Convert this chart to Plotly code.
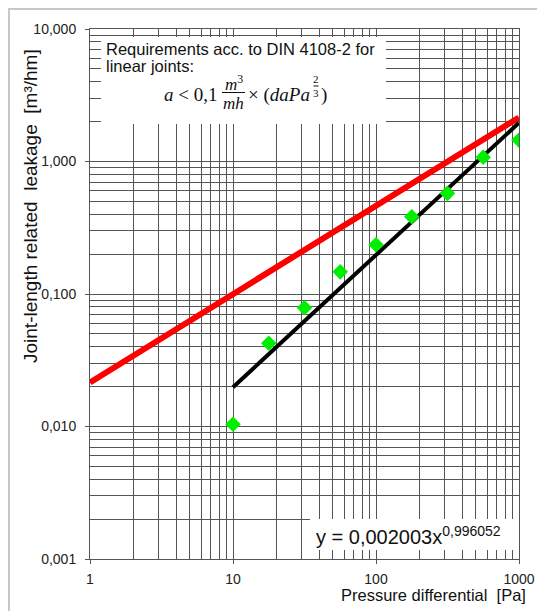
import plotly.graph_objects as go

# ---- data ----
pressure_pa = [10, 17.8, 31.6, 56.2, 100, 178, 316, 562, 1000]
leakage = [0.0104, 0.0425, 0.0788, 0.147, 0.2355, 0.383, 0.575, 1.076, 1.45]

din_limit_x = [1, 1000]
din_limit_y = [0.0215, 2.15]

fit_x = [10, 1000]
fit_y = [0.0198, 1.96]

x_tick_vals = [1, 10, 100, 1000]
x_tick_text = ["1", "10", "100", "1000"]
y_tick_vals = [0.001, 0.01, 0.1, 1, 10]
y_tick_text = ["0,001", "0,010", "0,100", "1,000", "10,000"]

minor_x = [m * 10 ** k for k in range(0, 3) for m in range(2, 10)]
minor_y = [m * 10 ** k for k in range(-3, 1) for m in range(2, 10)]

W, H = 537, 611
L, R, T, B = 90, 18, 29, 52
PW, PH = W - L - R, H - T - B


def px(x):
    return (x - L) / PW


def py(y):
    return (H - B - y) / PH


fig = go.Figure()

fig.add_trace(go.Scatter(x=din_limit_x, y=din_limit_y, mode="lines",
                         line=dict(color="#ff0000", width=6), showlegend=False))
fig.add_trace(go.Scatter(x=fit_x, y=fit_y, mode="lines",
                         line=dict(color="#000000", width=4), showlegend=False))
fig.add_trace(go.Scatter(x=pressure_pa, y=leakage, mode="markers",
                         marker=dict(symbol="diamond", size=12, color="#00ee00",
                                     line=dict(width=0)), showlegend=False))

grid_c = "#555555"
font_sans = "Liberation Sans, Arial, sans-serif"
font_serif = "Liberation Serif, DejaVu Serif, serif"

fig.update_xaxes(type="log", range=[0, 3], tickvals=x_tick_vals, ticktext=x_tick_text,
                 showgrid=True, gridcolor=grid_c, gridwidth=1,
                 showline=True, linecolor=grid_c, linewidth=1, mirror=True,
                 ticks="outside", ticklen=4, tickcolor=grid_c, ticklabelstandoff=3,
                 tickfont=dict(family=font_sans, size=14, color="#222"),
                 minor=dict(tickvals=minor_x, showgrid=True, gridcolor=grid_c, gridwidth=1, ticks=""),
                 zeroline=False, automargin=False)
fig.update_yaxes(type="log", range=[-3, 1], tickvals=y_tick_vals, ticktext=y_tick_text,
                 showgrid=True, gridcolor=grid_c, gridwidth=1,
                 showline=True, linecolor=grid_c, linewidth=1, mirror=True,
                 ticks="outside", ticklen=4, tickcolor=grid_c, ticklabelstandoff=6,
                 tickfont=dict(family=font_sans, size=14, color="#222"),
                 minor=dict(tickvals=minor_y, showgrid=True, gridcolor=grid_c, gridwidth=1, ticks=""),
                 zeroline=False, automargin=False)

shapes = [
    # outer frame
    dict(type="rect", xref="paper", yref="paper", x0=px(9), x1=px(560), y0=py(640), y1=py(9),
         line=dict(color="#c8c8c8", width=2), fillcolor="rgba(0,0,0,0)", layer="below"),
    # text box top-left
    dict(type="rect", xref="paper", yref="paper", x0=px(101), x1=px(386), y0=py(124), y1=py(37),
         line=dict(width=0), fillcolor="white", layer="above"),
    # equation box bottom-right
    dict(type="rect", xref="paper", yref="paper", x0=px(310), x1=px(519), y0=py(550), y1=py(519),
         line=dict(width=0), fillcolor="white", layer="above"),
    # fraction bar m3/mh
    dict(type="line", xref="paper", yref="paper", x0=px(222), x1=px(245), y0=py(92.5), y1=py(92.5),
         line=dict(color="#111", width=1), layer="above"),
    # small fraction bar 2/3
    dict(type="line", xref="paper", yref="paper", x0=px(313.5), x1=px(318.5), y0=py(86), y1=py(86),
         line=dict(color="#111", width=1), layer="above"),
]

ann = []


def add_text(text, x, y, size, family=font_sans, xanchor="left", yanchor="middle", angle=0):
    ann.append(dict(text=text, x=px(x), y=py(y), xref="paper", yref="paper",
                    xanchor=xanchor, yanchor=yanchor, showarrow=False, textangle=angle,
                    font=dict(family=family, size=size, color="#111")))


add_text("Requirements acc. to DIN 4108-2 for", 104, 49, 16.5)
add_text("linear joints:", 104, 66, 16.5)
add_text("<i>a</i> &lt; 0,1", 219, 95, 19, family=font_serif, xanchor="right")
add_text("<i>m</i><sup>3</sup>", 233.5, 83, 17, family=font_serif, xanchor="center")
add_text("<i>mh</i>", 233.5, 104, 17, family=font_serif, xanchor="center")
add_text("× (<i>daPa</i>", 246, 95, 19, family=font_serif)
add_text("2", 316, 79, 11, family=font_serif, xanchor="center")
add_text("3", 316, 93, 11, family=font_serif, xanchor="center")
add_text(")", 318.5, 95, 19, family=font_serif)
add_text("y = 0,002003x<sup>0,996052</sup>", 314, 535, 20)
add_text("Pressure differential\u00a0\u00a0[Pa]", 528, 595, 16.5, xanchor="right")
add_text("Joint-length related\u00a0\u00a0leakage\u00a0\u00a0[m³/hm]", 30, 206, 19,
         xanchor="center", yanchor="middle", angle=-90)

fig.update_layout(width=W, height=H, margin=dict(l=L, r=R, t=T, b=B, autoexpand=False),
                  plot_bgcolor="white", paper_bgcolor="white",
                  shapes=shapes, annotations=ann, showlegend=False)

fig.write_html("out.html", config={"displayModeBar": False},
               post_script="document.body.style.margin='0';document.body.style.overflow='hidden';")
